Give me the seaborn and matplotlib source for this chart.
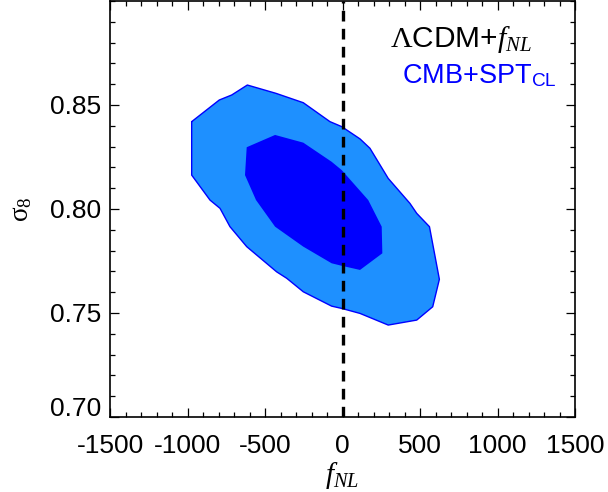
import numpy as np
import pandas as pd
import matplotlib
matplotlib.use("Agg")
import matplotlib.pyplot as plt
import matplotlib.transforms as mtransforms
from matplotlib.ticker import MultipleLocator
import seaborn as sns

# 95% (outer) contour of fNL vs sigma8
outer_fnl = [-973, -795, -715, -614, -429, -253, -81, -5, 113, 177, 295, 435, 479, 561, 625,
             582, 479, 295, 113, -5, -70, -253, -360, -425, -618, -726, -790, -855, -973]
outer_s8 = [0.8420, 0.8524, 0.8548, 0.8596, 0.8556, 0.8511, 0.8420, 0.8396, 0.8337, 0.8292,
            0.8147, 0.8027, 0.7979, 0.7915, 0.7662, 0.7530, 0.7466, 0.7442, 0.7498, 0.7522,
            0.7533, 0.7602, 0.7667, 0.7698, 0.7819, 0.7915, 0.8003, 0.8043, 0.8163]
# 68% (inner) contour
inner_fnl = [-618, -435, -253, -70, -5, 166, 253, 257, 113, -5, -70, -253, -435, -558, -629]
inner_s8 = [0.8297, 0.8356, 0.8319, 0.8227, 0.8187, 0.8043, 0.7915, 0.7787, 0.7707, 0.7727,
            0.7739, 0.7819, 0.7915, 0.8043, 0.8163]
ref_fnl = [0]
x_ticks = [-1500, -1000, -500, 0, 500, 1000, 1500]
y_ticks = [0.70, 0.75, 0.80, 0.85]

sns.set_theme(style="ticks")
plt.rcParams['font.family'] = ['Liberation Sans', 'DejaVu Sans']
plt.rcParams['mathtext.fontset'] = 'custom'
plt.rcParams['mathtext.rm'] = 'Liberation Serif'
plt.rcParams['mathtext.it'] = 'Liberation Serif:italic'
plt.rcParams['mathtext.bf'] = 'Liberation Serif:bold'
plt.rcParams['mathtext.sf'] = 'Liberation Sans'

fig = plt.figure(figsize=(6.08, 4.92), dpi=100)
ax = fig.add_axes([110/608, 1 - 417/492, 465/608, 416/492])

ax.fill(outer_fnl, outer_s8, color='#1E90FF', zorder=1, lw=0)
ax.fill(inner_fnl, inner_s8, color='#0000FF', zorder=2, lw=0)
outline = pd.DataFrame({'fnl': outer_fnl + [outer_fnl[0]], 's8': outer_s8 + [outer_s8[0]]})
sns.lineplot(data=outline, x='fnl', y='s8', sort=False, estimator=None, color='#0000FF',
             lw=1.0, ax=ax, zorder=3)
for v in ref_fnl:
    ax.axvline(v, color='black', lw=2.4, ls=(0, (3.2, 2.2)), zorder=4)

ax.set_xlim(-1500, 1500)
ax.set_ylim(0.70, 0.90)
ax.set_xticks(x_ticks)
ax.set_yticks(y_ticks)
ax.set_xticklabels([str(t) for t in x_ticks])
ax.set_yticklabels([f"{t:.2f}" for t in y_ticks])
ax.xaxis.set_minor_locator(MultipleLocator(100))
ax.yaxis.set_minor_locator(MultipleLocator(0.01))
ax.tick_params(which='both', direction='in', top=True, right=True, color='black', width=0.9)
ax.tick_params(which='major', length=6.5, labelsize=19, pad=6.5, labelcolor='black')
ax.tick_params(which='minor', length=3.3)
ax.tick_params(axis='x', which='major', pad=12.5)
for s in ax.spines.values():
    s.set_color('black')
    s.set_linewidth(1.2)

ax.set_xlabel(r'$f_{NL}$', fontsize=21, color='black', labelpad=1)
ax.set_ylabel(r'$\mathrm{\sigma}_8$', fontsize=19.5, color='black', labelpad=11)

ax.text(0.907, 0.890, r'$\mathrm{\Lambda}$CDM+$f_{NL}$', transform=ax.transAxes,
        ha='right', va='baseline', fontsize=21.5, color='black')
ax.text(0.960, 0.802, r'CMB+SPT$_{\mathsf{CL}}$', transform=ax.transAxes,
        ha='right', va='baseline', fontsize=19.5, color='#0000FF')

fig.canvas.draw()
lab = ax.yaxis.get_majorticklabels()[0]
lab.set_transform(lab.get_transform() + mtransforms.ScaledTranslation(0, 10/100, fig.dpi_scale_trans))

fig.savefig('out.png', dpi=100, facecolor='white')
